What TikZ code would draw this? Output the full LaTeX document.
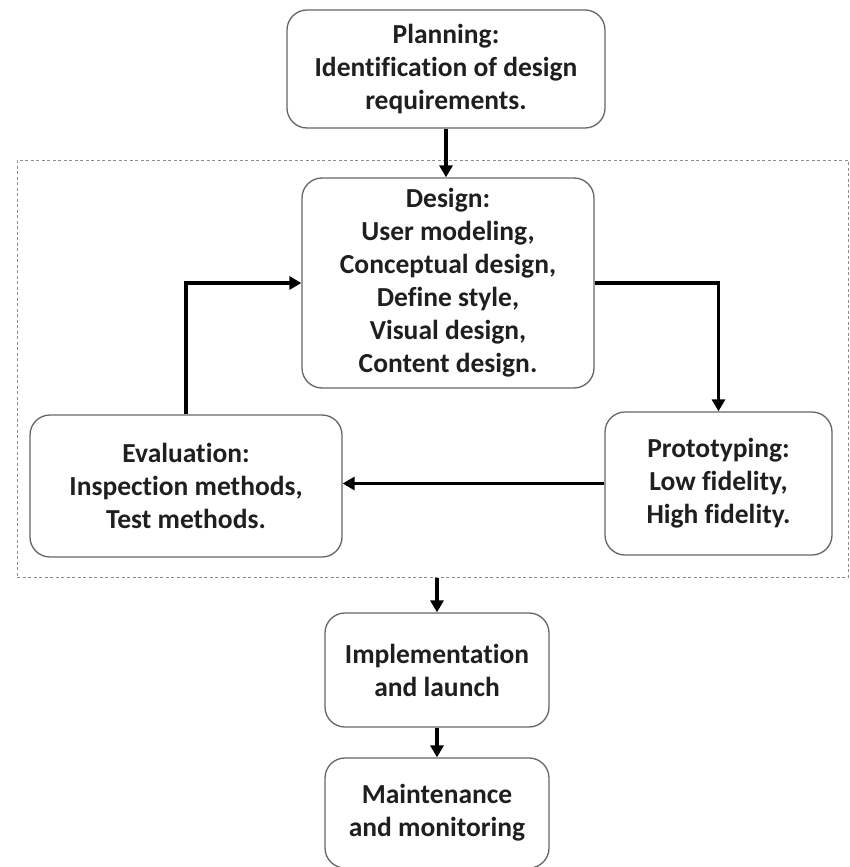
\documentclass[tikz,border=0pt]{standalone}
\usepackage{fontspec}
\setmainfont[Ligatures=NoCommon]{Carlito}
\usetikzlibrary{arrows.meta}
\begin{document}
\begin{tikzpicture}[x=1pt,y=-1pt,
  box/.style={draw=black!60, line width=1.3pt, rounded corners=20pt,
    align=center, inner sep=0pt, text=black!88,
    font=\bfseries\fontsize{27.5}{33}\selectfont},
  flow/.style={line width=3.5pt, draw=black, -{Triangle[length=12pt,width=13pt]}},
  groupframe/.style={draw=black!45, line width=1pt, dash pattern=on 3pt off 2.5pt}
]
\useasboundingbox (0,0) rectangle (849,867);

% stage boxes
\node[box, minimum width=318pt, minimum height=118pt] (plan) at (446,69)
  {Planning:\\Identification of design\\requirements.};
\node[box, minimum width=292pt, minimum height=210pt] (design) at (448,283)
  {Design:\\User modeling,\\Conceptual design,\\Define style,\\Visual design,\\Content design.};
\node[box, minimum width=312pt, minimum height=142pt] (eval) at (186,486)
  {Evaluation:\\Inspection methods,\\Test methods.};
\node[box, minimum width=227pt, minimum height=143pt] (proto) at (718.5,483.5)
  {Prototyping:\\Low fidelity,\\High fidelity.};
\node[box, minimum width=224pt, minimum height=114pt] (impl) at (437,670)
  {Implementation\\and launch};
\node[box, minimum width=224pt, minimum height=110pt] (maint) at (437,813)
  {Maintenance\\and monitoring};

% iterative design loop
\node[groupframe, minimum width=831pt, minimum height=417pt, inner sep=0pt] (loop) at (432.5,368.5) {};

% connectors
\draw[flow] (plan.south) -- (plan.south |- design.north);
\draw[flow] (design.east) -| (proto.north);
\draw[flow] (proto.west) -- (proto.west -| eval.east);
\draw[flow] (eval.north) |- (design.west);
\draw[flow] (impl.north |- loop.south) -- (impl.north);
\draw[flow] (impl.south) -- (maint.north);
\end{tikzpicture}
\end{document}
